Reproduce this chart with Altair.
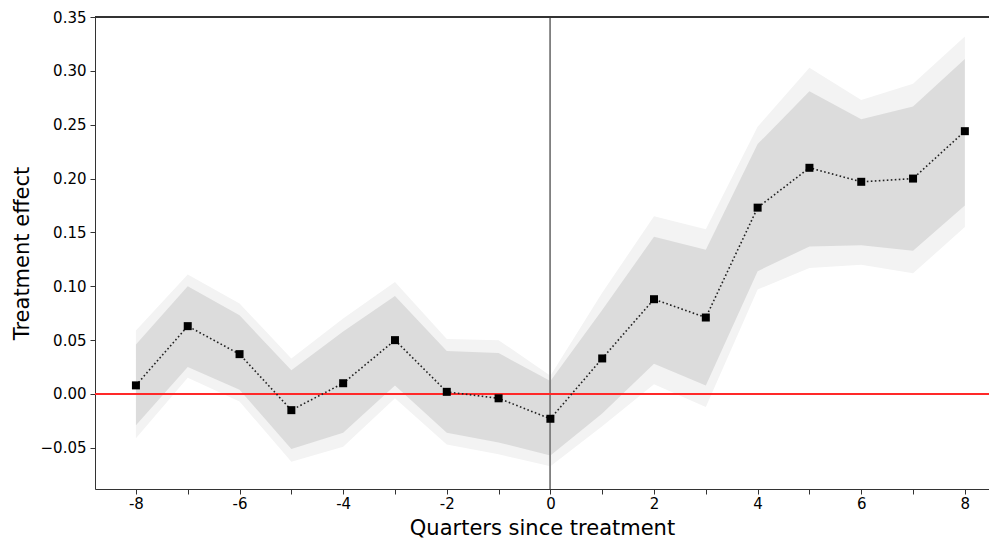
import altair as alt
import pandas as pd

quarters = list(range(-8, 9))
effect = [0.008, 0.063, 0.037, -0.015, 0.010, 0.050, 0.002, -0.004, -0.023,
          0.033, 0.088, 0.071, 0.173, 0.210, 0.197, 0.200, 0.244]
inner_lo = [-0.029, 0.025, 0.004, -0.051, -0.036, 0.008, -0.036, -0.045, -0.057,
            -0.018, 0.028, 0.008, 0.114, 0.137, 0.138, 0.133, 0.175]
inner_hi = [0.046, 0.100, 0.073, 0.022, 0.058, 0.091, 0.040, 0.038, 0.012,
            0.078, 0.146, 0.134, 0.232, 0.281, 0.255, 0.267, 0.311]
outer_lo = [-0.041, 0.015, -0.007, -0.063, -0.049, -0.004, -0.047, -0.056, -0.067,
            -0.030, 0.009, -0.012, 0.097, 0.117, 0.120, 0.112, 0.155]
outer_hi = [0.059, 0.111, 0.084, 0.033, 0.070, 0.104, 0.051, 0.050, 0.017,
            0.094, 0.165, 0.153, 0.248, 0.303, 0.273, 0.288, 0.332]

df = pd.DataFrame({
    "q": quarters, "effect": effect,
    "ilo": inner_lo, "ihi": inner_hi,
    "olo": outer_lo, "ohi": outer_hi,
})

FONT = "DejaVu Sans"
xscale = alt.Scale(domain=[-8.79, 8.466], nice=False, zero=False)
yscale = alt.Scale(domain=[-0.0882, 0.35], nice=False, zero=False)

xaxis = alt.Axis(
    title="Quarters since treatment", values=quarters,
    labelExpr="datum.value % 2 == 0 ? '' + datum.value : ''",
    grid=False, tickSize=5, labelPadding=2, labelFontSize=15,
    titleFontSize=21, titleFontWeight="normal",
    titleBaseline="alphabetic", titleY=45,
    labelFont=FONT, titleFont=FONT, labelColor="#000", titleColor="#000",
    domainColor="#333", tickColor="#333", domainWidth=1, tickWidth=1,
)
yaxis = alt.Axis(
    title="Treatment effect", values=[-0.05, 0, 0.05, 0.1, 0.15, 0.2, 0.25, 0.3, 0.35],
    format=".2f", grid=False, tickSize=5, labelPadding=4, labelFontSize=15,
    titleFontSize=21, titleFontWeight="normal", titlePadding=8,
    labelFont=FONT, titleFont=FONT, labelColor="#000", titleColor="#000",
    domainColor="#333", tickColor="#333", domainWidth=1, tickWidth=1,
)

base = alt.Chart(df)

outer = base.mark_area(color="#f3f3f3", opacity=1).encode(
    x=alt.X("q:Q", scale=xscale, axis=xaxis),
    y=alt.Y("olo:Q", scale=yscale, axis=yaxis),
    y2="ohi:Q",
)
inner = base.mark_area(color="#dcdcdc", opacity=1).encode(
    x=alt.X("q:Q", scale=xscale),
    y=alt.Y("ilo:Q", scale=yscale),
    y2="ihi:Q",
)
vline = base.mark_rule(color="#808080", strokeWidth=1).encode(x=alt.datum(0))
hline = base.mark_rule(color="#ff2a2a", strokeWidth=1.3).encode(y=alt.datum(0))
topline = base.mark_rule(color="#333", strokeWidth=1).encode(y=alt.datum(0.35))
line = base.mark_line(color="#222", strokeWidth=1.6, strokeDash=[1.6, 2.4]).encode(
    x=alt.X("q:Q", scale=xscale), y=alt.Y("effect:Q", scale=yscale)
)
pts = base.mark_point(shape="square", filled=True, color="#000", opacity=1, size=64).encode(
    x=alt.X("q:Q", scale=xscale), y=alt.Y("effect:Q", scale=yscale)
)

chart = alt.layer(outer, inner, vline, hline, line, pts, topline).properties(
    width=894, height=472,
    autosize=alt.AutoSizeParams(type="none"),
    padding={"left": 87, "top": 9, "right": 0, "bottom": 50},
).configure_view(stroke=None).configure(background="white")

chart.save("out.html", embed_options={"renderer": "svg", "actions": False})
